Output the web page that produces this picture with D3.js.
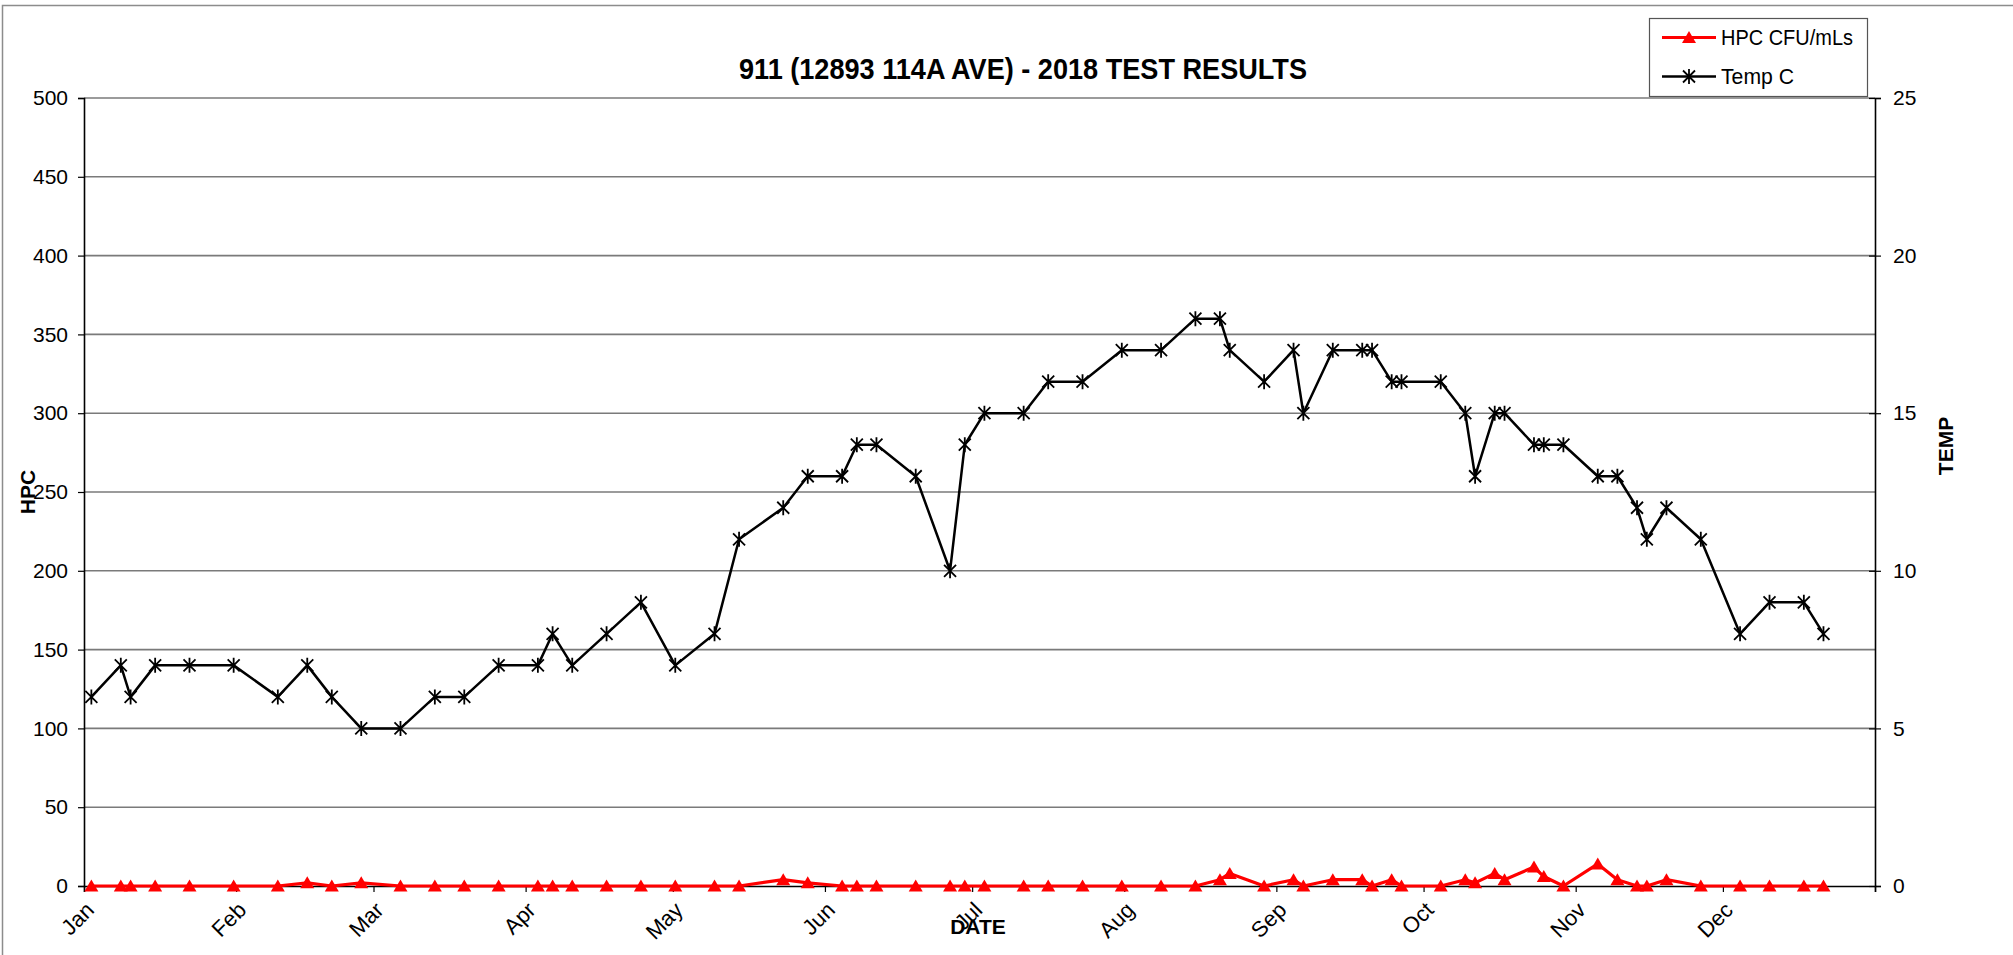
<!DOCTYPE html>
<html>
<head>
<meta charset="utf-8">
<script src="https://cdn.jsdelivr.net/npm/d3@7/dist/d3.min.js"></script>
<style>
  html, body { margin: 0; padding: 0; background: #fff; }
  svg { display: block; }
</style>
</head>
<body>
<svg id="chart" width="2013" height="955"></svg>
<script>
// Sample dates for 2018
const sampleDates = [
  "2018-01-02","2018-01-08","2018-01-10","2018-01-15","2018-01-22","2018-01-31",
  "2018-02-09","2018-02-15","2018-02-20","2018-02-26",
  "2018-03-06","2018-03-13","2018-03-19","2018-03-26",
  "2018-04-03","2018-04-06","2018-04-10","2018-04-17","2018-04-24",
  "2018-05-01","2018-05-09","2018-05-14","2018-05-23","2018-05-28",
  "2018-06-04","2018-06-07","2018-06-11","2018-06-19","2018-06-26","2018-06-29",
  "2018-07-03","2018-07-11","2018-07-16","2018-07-23","2018-07-31",
  "2018-08-08","2018-08-15","2018-08-20","2018-08-22","2018-08-29",
  "2018-09-04","2018-09-06","2018-09-12","2018-09-18","2018-09-20","2018-09-24","2018-09-26",
  "2018-10-04","2018-10-09","2018-10-11","2018-10-15","2018-10-17","2018-10-23","2018-10-25","2018-10-29",
  "2018-11-05","2018-11-09","2018-11-13","2018-11-15","2018-11-19","2018-11-26",
  "2018-12-04","2018-12-10","2018-12-17","2018-12-21"
];

// Heterotrophic plate count (CFU/mL)
const hpcValues = [
  0,0,0,0,0,0,
  0,2,0,2,
  0,0,0,0,
  0,0,0,0,0,
  0,0,0,4,2,
  0,0,0,0,0,0,
  0,0,0,0,0,
  0,0,4,8,0,
  4,0,4,4,0,4,0,
  0,4,2,8,4,12,6,0,
  14,4,0,0,4,0,
  0,0,0,0
];

// Water temperature (°C)
const tempValues = [
  6,7,6,7,7,7,
  6,7,6,5,
  5,6,6,7,
  7,8,7,8,9,
  7,8,11,12,13,
  13,14,14,13,10,14,
  15,15,16,16,17,
  17,18,18,17,16,
  17,15,17,17,17,16,16,
  16,15,13,15,15,14,14,14,
  13,13,12,11,12,11,
  8,9,9,8
];

const hpcTicks = [0,50,100,150,200,250,300,350,400,450,500];
const tempTicks = [0,5,10,15,20,25];

const titleText = "911 (12893 114A AVE) - 2018 TEST RESULTS";
const seriesNames = ["HPC CFU/mLs", "Temp C"];

const svg = d3.select("#chart");

const plot = { left: 84, right: 1875, top: 98, bottom: 886 };
const sans = "'Liberation Sans', Arial, sans-serif";
const narrow = "'Liberation Sans Narrow', 'Liberation Sans', Arial, sans-serif";

const parse = d3.utcParse("%Y-%m-%d");
const points = sampleDates.map((d, i) => ({
  // each day occupies one slot on the axis; values sit in the middle of it
  date: d3.utcHour.offset(parse(d), 12),
  hpc: hpcValues[i],
  temp: tempValues[i]
}));

const x = d3.scaleUtc()
  .domain([new Date(Date.UTC(2018,0,1)), new Date(Date.UTC(2019,0,1))])
  .range([plot.left, plot.right]);
const yL = d3.scaleLinear().domain([0,500]).range([plot.bottom, plot.top]);
const yR = d3.scaleLinear().domain([0,25]).range([plot.bottom, plot.top]);

// outer chart border
svg.append("rect")
  .attr("x", 2.5).attr("y", 5.5)
  .attr("width", 2100).attr("height", 1100)
  .attr("fill", "none").attr("stroke", "#8c8c8c").attr("stroke-width", 1.5);

// horizontal gridlines
svg.append("g").selectAll("line").data(hpcTicks.filter(v => v > 0)).join("line")
  .attr("x1", plot.left).attr("x2", plot.right)
  .attr("y1", d => yL(d)).attr("y2", d => yL(d))
  .attr("stroke", "#7a7a7a").attr("stroke-width", 1.6);

// left axis
const leftAxis = d3.axisLeft(yL).tickValues(hpcTicks).tickSize(6).tickPadding(10).tickFormat(d3.format("d"));
const gL = svg.append("g").attr("transform", `translate(${plot.left},0)`).call(leftAxis);
gL.select(".domain").attr("stroke", "#000").attr("stroke-width", 1.6);
gL.selectAll(".tick line").attr("stroke", "#000").attr("stroke-width", 1.2);
gL.selectAll(".tick text").attr("font-family", sans).attr("font-size", 21).attr("fill", "#000");

// right axis
const rightAxis = d3.axisRight(yR).tickValues(tempTicks).tickSize(6).tickPadding(12).tickFormat(d3.format("d"));
const gR = svg.append("g").attr("transform", `translate(${plot.right},0)`).call(rightAxis);
gR.select(".domain").attr("stroke", "#000").attr("stroke-width", 1.6);
gR.selectAll(".tick line").attr("stroke", "#000").attr("stroke-width", 1.2).attr("x1", -6);
gR.selectAll(".tick text").attr("font-family", sans).attr("font-size", 21).attr("fill", "#000");

// bottom (date) axis
const months = d3.utcMonth.range(x.domain()[0], x.domain()[1]);
const bottomAxis = d3.axisBottom(x).tickValues(months.concat([x.domain()[1]])).tickSize(6).tickFormat("");
const gB = svg.append("g").attr("transform", `translate(0,${plot.bottom})`).call(bottomAxis);
gB.select(".domain").attr("stroke", "#000").attr("stroke-width", 1.6);
gB.selectAll(".tick line").attr("stroke", "#000").attr("stroke-width", 1.2);

const fmtMonth = d3.utcFormat("%b");
svg.append("g").selectAll("text").data(months).join("text")
  .attr("transform", d => `translate(${x(d) + 6},${plot.bottom + 20}) rotate(-45)`)
  .attr("text-anchor", "end")
  .attr("dy", "0.35em")
  .attr("font-family", sans)
  .attr("font-size", 22)
  .attr("fill", "#000")
  .text(d => fmtMonth(d));

// axis titles
svg.append("text")
  .attr("transform", `translate(35,${(plot.top + plot.bottom) / 2}) rotate(-90)`)
  .attr("text-anchor", "middle")
  .attr("font-family", sans)
  .attr("font-weight", "bold").attr("font-size", 21)
  .text("HPC");
svg.append("text")
  .attr("transform", `translate(1953,446) rotate(-90)`)
  .attr("text-anchor", "middle")
  .attr("font-family", sans)
  .attr("font-weight", "bold").attr("font-size", 21)
  .text("TEMP");
svg.append("text")
  .attr("x", 978).attr("y", 934)
  .attr("text-anchor", "middle")
  .attr("font-family", sans)
  .attr("font-weight", "bold").attr("font-size", 21)
  .text("DATE");

// chart title
svg.append("text")
  .attr("x", 739).attr("y", 79)
  .attr("textLength", 568).attr("lengthAdjust", "spacingAndGlyphs")
  .attr("font-family", narrow)
  .attr("font-weight", "bold").attr("font-size", 30)
  .text(titleText);

// marker shapes
const trianglePath = "M0,-6.5L7,5.5L-7,5.5Z";
const starPath = "M-6,-6L6,6M-6,6L6,-6M0,-7.5L0,7.5";

// HPC series
const hpcLine = d3.line().x(d => x(d.date)).y(d => yL(d.hpc));
svg.append("path").datum(points)
  .attr("d", hpcLine).attr("fill", "none")
  .attr("stroke", "#ff0000").attr("stroke-width", 3.2).attr("stroke-linejoin", "round");
svg.append("g").selectAll("path").data(points).join("path")
  .attr("transform", d => `translate(${x(d.date)},${yL(d.hpc)})`)
  .attr("d", trianglePath).attr("fill", "#ff0000");

// Temperature series
const tempLine = d3.line().x(d => x(d.date)).y(d => yR(d.temp));
svg.append("path").datum(points)
  .attr("d", tempLine).attr("fill", "none")
  .attr("stroke", "#000").attr("stroke-width", 2.5).attr("stroke-linejoin", "round");
svg.append("g").selectAll("path").data(points).join("path")
  .attr("transform", d => `translate(${x(d.date)},${yR(d.temp)})`)
  .attr("d", starPath).attr("fill", "none")
  .attr("stroke", "#000").attr("stroke-width", 1.8);

// legend
const lg = svg.append("g");
lg.append("rect")
  .attr("x", 1649.5).attr("y", 18.5).attr("width", 218).attr("height", 78)
  .attr("fill", "#fff").attr("stroke", "#555").attr("stroke-width", 1.2);
const legendRows = [
  { name: seriesNames[0], y: 37.5, color: "#ff0000", marker: trianglePath, fill: "#ff0000", len: 132 },
  { name: seriesNames[1], y: 76.5, color: "#000", marker: starPath, fill: "none", len: 73 }
];
legendRows.forEach(r => {
  lg.append("line").attr("x1", 1662).attr("x2", 1716).attr("y1", r.y).attr("y2", r.y)
    .attr("stroke", r.color).attr("stroke-width", r.color === "#000" ? 2.5 : 3);
  lg.append("path").attr("transform", `translate(1689,${r.y})`).attr("d", r.marker)
    .attr("fill", r.fill).attr("stroke", r.fill === "none" ? "#000" : "none").attr("stroke-width", 1.8);
  lg.append("text").attr("x", 1721).attr("y", r.y).attr("dy", "0.36em")
    .attr("textLength", r.len).attr("lengthAdjust", "spacingAndGlyphs")
    .attr("font-family", narrow)
    .attr("font-size", 22).text(r.name);
});
</script>
</body>
</html>
